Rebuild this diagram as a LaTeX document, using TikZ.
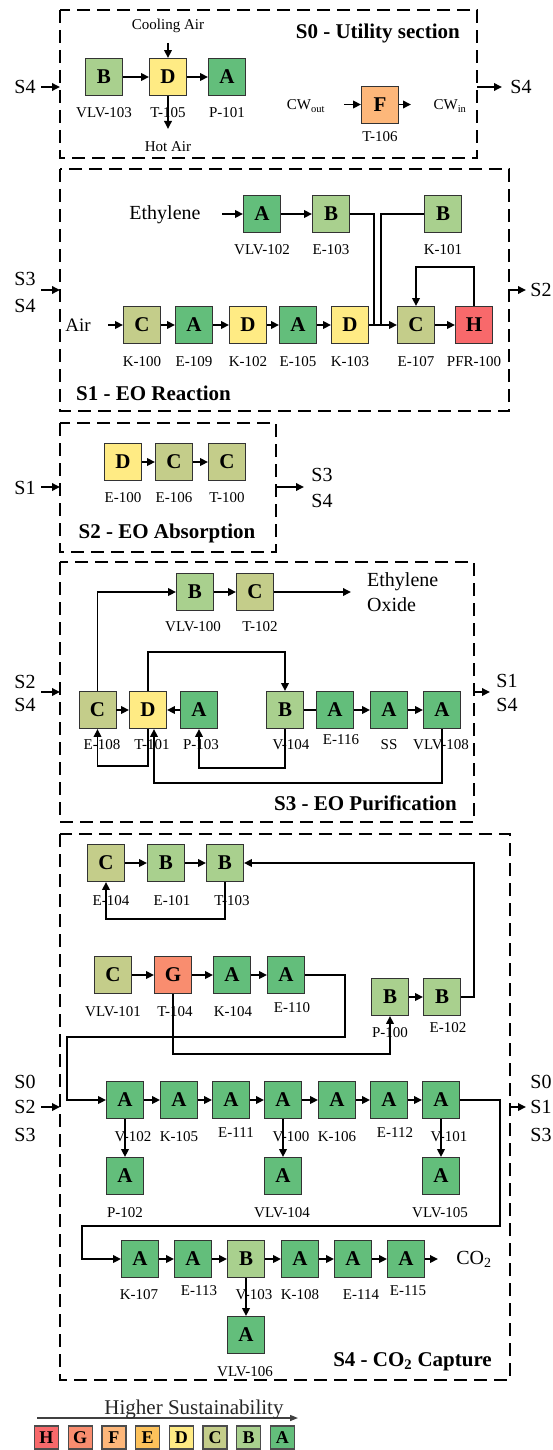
\documentclass[tikz,border=0pt]{standalone}
\usepackage{fontspec}
\setmainfont{Liberation Serif}
\usetikzlibrary{arrows.meta}
\definecolor{cA}{HTML}{63BE7B}
\definecolor{cB}{HTML}{A9D08E}
\definecolor{cC}{HTML}{C4CD8A}
\definecolor{cD}{HTML}{FFEB84}
\definecolor{cE}{HTML}{FDC25B}
\definecolor{cF}{HTML}{FDB77A}
\definecolor{cG}{HTML}{F98D6F}
\definecolor{cH}{HTML}{F8696B}
\definecolor{legarrow}{HTML}{404040}
\begin{document}
\begin{tikzpicture}[x=1pt,y=-1pt,
  eq/.style={draw=black!80, line width=0.9pt, minimum width=37pt, minimum height=37pt, inner sep=0pt, font=\fontsize{21}{21}\selectfont\bfseries},
  lbl/.style={font=\fontsize{15}{15}\selectfont, inner sep=1pt},
  big/.style={font=\fontsize{20}{25}\selectfont, inner sep=1pt},
  side/.style={font=\fontsize{20}{20}\selectfont, inner sep=1pt},
  ttl/.style={font=\fontsize{21}{21}\selectfont\bfseries, inner sep=1pt},
  conn/.style={line width=1.8pt, -{Triangle[length=8pt,width=7.5pt]}},
  pipe/.style={line width=1.8pt},
  sect/.style={line width=2pt, dash pattern=on 13pt off 7pt},
  leg/.style={draw=black!70, line width=1.2pt, minimum width=24pt, minimum height=23pt, inner sep=0pt, font=\fontsize{18}{18}\selectfont\bfseries}
]
\useasboundingbox (0,0) rectangle (552,1450);

% ================= S0 =================
\draw[sect] (60,10) rectangle (477,158);
\node[ttl, anchor=east] (t0) at (461,33) {S0 - Utility section};
\node[eq, fill=cB] (vlv103) at (104,77) {B};
\node[eq, fill=cD] (t105) at (168,77) {D};
\node[eq, fill=cA] (p101) at (227,77) {A};
\node[lbl] (lvlv103) at (104,113) {VLV-103};
\node[lbl] (lt105) at (168,113) {T-105};
\node[lbl] (lp101) at (227,113) {P-101};
\node[lbl] (cool) at (168,26) {Cooling Air};
\coordinate (coolin) at (168,43);
\draw[conn] (coolin) -- (t105.north);
\coordinate (hotout) at (168,129);
\draw[conn] (t105.south) -- (hotout);
\node[lbl] (hot) at (168,147) {Hot Air};
\draw[conn] (vlv103) -- (t105);
\draw[conn] (t105) -- (p101);
\node[eq, fill=cF] (t106) at (380,104.5) {F};
\node[lbl] (lt106) at (380,137) {T-106};
\node[lbl, anchor=base] (cwout) at (306,110) {CW\textsubscript{out}};
\node[lbl, anchor=base] (cwin) at (450,110) {CW\textsubscript{in}};
\coordinate (cwoutA) at (344,104.5);
\coordinate (cwinA) at (411,104.5);
\draw[conn] (cwoutA) -- (t106.west);
\draw[conn] (t106.east) -- (cwinA);
\node[side] (s0l) at (25,87) {S4};
\coordinate (s0la) at (41,87);
\coordinate (s0lb) at (60,87);
\draw[conn] (s0la) -- (s0lb);
\node[side] (s0r) at (521,87) {S4};
\coordinate (s0ra) at (477,87);
\coordinate (s0rb) at (502,87);
\draw[conn] (s0ra) -- (s0rb);

% ================= S1 =================
\draw[sect] (60,169) rectangle (509,411);
\node[ttl, anchor=west] (t1) at (75,393) {S1 - EO Reaction};
\node[big] (eth) at (165,215) {Ethylene};
\coordinate (etha) at (222,214);
\node[eq, fill=cA] (vlv102) at (262,214) {A};
\node[eq, fill=cB] (e103) at (331,214) {B};
\node[eq, fill=cB] (k101) at (443,214) {B};
\node[lbl] (lvlv102) at (262,250) {VLV-102};
\node[lbl] (le103) at (331,250) {E-103};
\node[lbl] (lk101) at (443,250) {K-101};
\draw[conn] (etha) -- (vlv102.west);
\draw[conn] (vlv102) -- (e103);
\node[font=\fontsize{19}{19}\selectfont, inner sep=1pt] (air) at (78,325) {Air};
\coordinate (aira) at (108,325);
\node[eq, fill=cC] (k100) at (142,325) {C};
\node[eq, fill=cA] (e109) at (194,325) {A};
\node[eq, fill=cD] (k102) at (248,325) {D};
\node[eq, fill=cA] (e105) at (298,325) {A};
\node[eq, fill=cD] (k103) at (350,325) {D};
\node[eq, fill=cC] (e107) at (416,325) {C};
\node[eq, fill=cH] (pfr100) at (474,325) {H};
\node[lbl] (lk100) at (142,362) {K-100};
\node[lbl] (le109) at (194,362) {E-109};
\node[lbl] (lk102) at (248,362) {K-102};
\node[lbl] (le105) at (298,362) {E-105};
\node[lbl] (lk103) at (350,362) {K-103};
\node[lbl] (le107) at (416,362) {E-107};
\node[lbl] (lpfr100) at (474,362) {PFR-100};
\draw[conn] (aira) -- (k100.west);
\draw[conn] (k100) -- (e109);
\draw[conn] (e109) -- (k102);
\draw[conn] (k102) -- (e105);
\draw[conn] (e105) -- (k103);
\draw[conn] (k103) -- (e107);
\draw[conn] (e107) -- (pfr100);
\draw[pipe] (e103.east) -| (374,325);
\draw[pipe] (k101.west) -| (381,325);
\draw[conn] (pfr100.north) |- (416,267) -- (e107.north);
\node[side] (s1l1) at (25,279) {S3};
\node[side] (s1l2) at (25,306) {S4};
\coordinate (s1la) at (41,290);
\coordinate (s1lb) at (60,290);
\draw[conn] (s1la) -- (s1lb);
\node[side] (s1r) at (541,290) {S2};
\coordinate (s1ra) at (509,290);
\coordinate (s1rb) at (526,290);
\draw[conn] (s1ra) -- (s1rb);

% ================= S2 =================
\draw[sect] (60,423) rectangle (276,552);
\node[ttl] (t2) at (167,533) {S2 - EO Absorption};
\node[eq, fill=cD] (e100) at (123,462) {D};
\node[eq, fill=cC] (e106) at (174,462) {C};
\node[eq, fill=cC] (t100) at (227,462) {C};
\node[lbl] (le100) at (123,498) {E-100};
\node[lbl] (le106) at (174,498) {E-106};
\node[lbl] (lt100) at (227,498) {T-100};
\draw[conn] (e100) -- (e106);
\draw[conn] (e106) -- (t100);
\node[side] (s2l) at (25,488) {S1};
\coordinate (s2la) at (41,487);
\coordinate (s2lb) at (60,487);
\draw[conn] (s2la) -- (s2lb);
\node[side] (s2r1) at (322,475) {S3};
\node[side] (s2r2) at (322,501) {S4};
\coordinate (s2ra) at (276,487);
\coordinate (s2rb) at (304,487);
\draw[conn] (s2ra) -- (s2rb);

% ================= S3 =================
\draw[sect] (60,562) rectangle (474,822);
\node[ttl, anchor=east] (t3) at (458,803) {S3 - EO Purification};
\node[eq, fill=cB] (vlv100) at (195,592) {B};
\node[eq, fill=cC] (t102) at (255,592) {C};
\node[lbl] (lvlv100) at (193,627) {VLV-100};
\node[lbl] (lt102) at (260,627) {T-102};
\draw[conn] (vlv100) -- (t102);
\coordinate (eoa) at (351,592);
\draw[conn] (t102.east) -- (eoa);
\node[big, align=left, anchor=west] (eo) at (366,592) {Ethylene\\Oxide};
\node[eq, fill=cC] (e108) at (97.5,710) {C};
\node[eq, fill=cD] (t101) at (148,710) {D};
\node[eq, fill=cA] (p103) at (199,710) {A};
\node[eq, fill=cB] (v104) at (285,710) {B};
\node[eq, fill=cA] (e116) at (335,710) {A};
\node[eq, fill=cA] (ss) at (389,710) {A};
\node[eq, fill=cA] (vlv108) at (442,710) {A};
\node[lbl] (le108) at (102,745) {E-108};
\node[lbl] (lt101) at (152,745) {T-101};
\node[lbl] (lp103) at (201,745) {P-103};
\node[lbl] (lv104) at (291,745) {V-104};
\node[lbl] (le116) at (341,740) {E-116};
\node[lbl] (lss) at (389,745) {SS};
\node[lbl] (lvlv108) at (441,745) {VLV-108};
\draw[conn] (e108) -- (t101);
\draw[conn] (p103) -- (t101);
\draw[pipe] (v104) -- (e116);
\draw[conn] (e116) -- (ss);
\draw[conn] (ss) -- (vlv108);
\draw[conn] (e108.north) |- (vlv100.west);
\draw[conn] (t101.north) |- (285,652) -- (v104.north);
\draw[conn] (t101.south) |- (97.5,766) -- (e108.south);
\draw[conn] (v104.south) |- (199,768) -- (p103.south);
\draw[conn] (vlv108.south) |- (154,783) -- ([xshift=6pt]t101.south);
\node[side] (s3l1) at (25,682) {S2};
\node[side] (s3l2) at (25,705) {S4};
\coordinate (s3la) at (41,692);
\coordinate (s3lb) at (60,692);
\draw[conn] (s3la) -- (s3lb);
\node[side] (s3r1) at (507,681) {S1};
\node[side] (s3r2) at (507,705) {S4};
\coordinate (s3ra) at (474,692);
\coordinate (s3rb) at (490,692);
\draw[conn] (s3ra) -- (s3rb);

% ================= S4 =================
\draw[sect] (60,834) rectangle (510,1380);
\node[ttl, anchor=east] (t4) at (493,1362) {S4 - CO\textsubscript{2} Capture};
\node[eq, fill=cC] (e104) at (106,863) {C};
\node[eq, fill=cB] (e101) at (166,863) {B};
\node[eq, fill=cB] (t103) at (225,863) {B};
\node[lbl] (le104) at (111,901) {E-104};
\node[lbl] (le101) at (172,901) {E-101};
\node[lbl] (lt103) at (232,901) {T-103};
\draw[conn] (e104) -- (e101);
\draw[conn] (e101) -- (t103);
\draw[conn] (t103.south) |- (106,919) -- (e104.south);
\node[eq, fill=cC] (vlv101) at (113,975) {C};
\node[eq, fill=cG] (t104) at (173,975) {G};
\node[eq, fill=cA] (k104) at (232,975) {A};
\node[eq, fill=cA] (e110) at (286,975) {A};
\node[lbl] (lvlv101) at (113,1012) {VLV-101};
\node[lbl] (lt104) at (175,1012) {T-104};
\node[lbl] (lk104) at (233,1012) {K-104};
\node[lbl] (le110) at (292,1008) {E-110};
\draw[conn] (vlv101) -- (t104);
\draw[conn] (t104) -- (k104);
\draw[conn] (k104) -- (e110);
\node[eq, fill=cB] (p100) at (390,997) {B};
\node[eq, fill=cB] (e102) at (442,997) {B};
\node[lbl] (lp100) at (390,1033) {P-100};
\node[lbl] (le102) at (448,1028) {E-102};
\draw[conn] (p100) -- (e102);
\draw[conn] (e102.east) -| (474,863) -- (t103.east);
\draw[conn] (t104.south) |- (390,1054) -- (p100.south);
\node[eq, fill=cA] (v102) at (125,1100) {A};
\node[eq, fill=cA] (k105) at (179,1100) {A};
\node[eq, fill=cA] (e111) at (231,1100) {A};
\node[eq, fill=cA] (v100) at (283,1100) {A};
\node[eq, fill=cA] (k106) at (337,1100) {A};
\node[eq, fill=cA] (e112) at (389,1100) {A};
\node[eq, fill=cA] (v101) at (441,1100) {A};
\node[lbl] (lv102) at (133,1137) {V-102};
\node[lbl] (lk105) at (179,1137) {K-105};
\node[lbl] (le111) at (236,1133) {E-111};
\node[lbl] (lv100) at (291,1137) {V-100};
\node[lbl] (lk106) at (337,1137) {K-106};
\node[lbl] (le112) at (395,1133) {E-112};
\node[lbl] (lv101) at (449,1137) {V-101};
\draw[conn] (e110.east) -| (345,1037) -| (67,1100) -- (v102.west);
\draw[conn] (v102) -- (k105);
\draw[conn] (k105) -- (e111);
\draw[conn] (e111) -- (v100);
\draw[conn] (v100) -- (k106);
\draw[conn] (k106) -- (e112);
\draw[conn] (e112) -- (v101);
\node[eq, fill=cA] (p102) at (125,1176) {A};
\node[eq, fill=cA] (vlv104) at (283,1176) {A};
\node[eq, fill=cA] (vlv105) at (441,1176) {A};
\node[lbl] (lp102) at (125,1213) {P-102};
\node[lbl] (lvlv104) at (282,1213) {VLV-104};
\node[lbl] (lvlv105) at (440,1213) {VLV-105};
\draw[conn] (v102) -- (p102);
\draw[conn] (v100) -- (vlv104);
\draw[conn] (v101) -- (vlv105);
\node[eq, fill=cA] (k107) at (140,1259) {A};
\node[eq, fill=cA] (e113) at (193,1259) {A};
\node[eq, fill=cB] (v103) at (246,1259) {B};
\node[eq, fill=cA] (k108) at (300,1259) {A};
\node[eq, fill=cA] (e114) at (353,1259) {A};
\node[eq, fill=cA] (e115) at (406,1259) {A};
\node[lbl] (lk107) at (139,1295) {K-107};
\node[lbl] (le113) at (199,1291) {E-113};
\node[lbl] (lv103) at (254,1295) {V-103};
\node[lbl] (lk108) at (300,1295) {K-108};
\node[lbl] (le114) at (361,1295) {E-114};
\node[lbl] (le115) at (408,1291) {E-115};
\draw[conn] (v101.east) -| (500,1226) -| (82,1259) -- (k107.west);
\draw[conn] (k107) -- (e113);
\draw[conn] (e113) -- (v103);
\draw[conn] (v103) -- (k108);
\draw[conn] (k108) -- (e114);
\draw[conn] (e114) -- (e115);
\coordinate (co2a) at (438,1259);
\draw[conn] (e115.east) -- (co2a);
\node[big] (co2) at (474,1259) {CO\textsubscript{2}};
\node[eq, fill=cA] (vlv106) at (246,1335) {A};
\node[lbl] (lvlv106) at (245,1372) {VLV-106};
\draw[conn] (v103) -- (vlv106);
\node[side] (s4l1) at (25,1082) {S0};
\node[side] (s4l2) at (25,1107) {S2};
\node[side] (s4l3) at (25,1135) {S3};
\coordinate (s4la) at (41,1107);
\coordinate (s4lb) at (60,1107);
\draw[conn] (s4la) -- (s4lb);
\node[side] (s4r1) at (541,1082) {S0};
\node[side] (s4r2) at (541,1107) {S1};
\node[side] (s4r3) at (541,1135) {S3};
\coordinate (s4ra) at (510,1107);
\coordinate (s4rb) at (526,1107);
\draw[conn] (s4ra) -- (s4rb);

% ================= Legend =================
\coordinate (lga) at (37,1418);
\coordinate (lgb) at (298,1418);
\draw[line width=1.3pt, draw=legarrow, -{Triangle[length=8pt,width=6pt]}] (lga) -- (lgb);
\node[font=\fontsize{21}{21}\selectfont, inner sep=0pt, text=black!85] (hs) at (194,1409) {Higher Sustainability};
\node[leg, fill=cH] (lH) at (46.5,1437.5) {H};
\node[leg, fill=cG] (lG) at (80.2,1437.5) {G};
\node[leg, fill=cF] (lF) at (113.9,1437.5) {F};
\node[leg, fill=cE] (lE) at (147.6,1437.5) {E};
\node[leg, fill=cD] (lD) at (181.3,1437.5) {D};
\node[leg, fill=cC] (lC) at (215,1437.5) {C};
\node[leg, fill=cB] (lB) at (248.7,1437.5) {B};
\node[leg, fill=cA] (lA) at (282.4,1437.5) {A};
\end{tikzpicture}
\end{document}
